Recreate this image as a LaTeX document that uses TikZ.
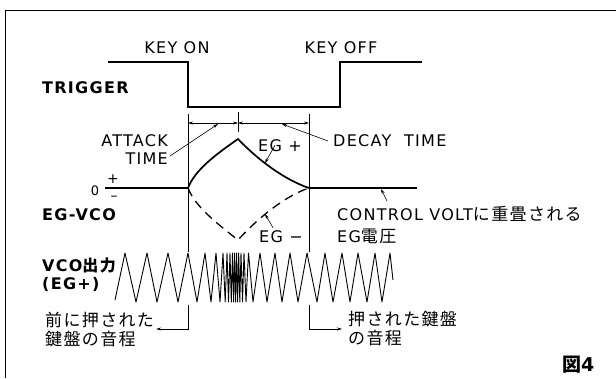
\documentclass[tikz,border=0pt]{standalone}
\usepackage{fontspec}
\setmainfont{DejaVu Sans}[LetterSpace=8]
\newfontfamily\jp{Noto Sans CJK JP}[LetterSpace=8]
\usetikzlibrary{arrows.meta}

\begin{document}
\begin{tikzpicture}[
		x=1pt, y=-1pt,
		frameline/.style={line width=0.9pt},
		sigline/.style={line width=1.6pt},
		egline/.style={line width=1.7pt},
		egdash/.style={line width=1.3pt, dash pattern=on 9pt off 6pt},
		guide/.style={line width=0.5pt},
		wave/.style={line width=0.9pt, line join=round},
		dimarrow/.style={
			{Stealth[length=5pt,width=3pt]}-{Stealth[length=5pt,width=3pt]},
			line width=0.5pt
		},
		leader/.style={
			-{Stealth[length=5pt,width=3pt]},
			line width=0.6pt
		},
		lbl/.style={inner sep=0pt, font=\fontsize{16}{18}\selectfont},
		boldlbl/.style={inner sep=0pt, align=left, font=\fontsize{16}{18}\selectfont\bfseries},
		jplbl/.style={inner sep=0pt, align=left, font=\fontsize{17}{19}\selectfont\jp}
	]
	
	\useasboundingbox (0,0) rectangle (616,378);
	\draw[frameline] (5,378) -- (5,10) -- (616,10);
	
	% trigger
	\node[lbl] (keyon) at (177,48) {KEY ON};
	\node[lbl] (keyoff) at (341,48) {KEY OFF};
	\node[boldlbl, anchor=west] (trigger) at (42,88) {TRIGGER};
	\draw[sigline] (108,62) -- (188,62) -- (188,107) -- (340,107) -- (340,62) -- (422,62);
	
	% envelope
	\coordinate (on) at (188,188);
	\coordinate (peak) at (238,139);
	\coordinate (trough) at (238,240);
	\coordinate (off) at (309,188);
	\coordinate (egpt) at (265,163);
	\coordinate (egmt) at (265,214);
	\coordinate (cvpt) at (381,189);
	\coordinate (dimA) at (218,124);
	\coordinate (dimD) at (282,124);
	
	\draw[guide] (188,114) -- (188,252);
	\draw[guide] (309,114) -- (309,252);
	\draw[guide] (238,112) -- (238,132);
	\draw[dimarrow] (188,123) -- (238,123);
	\draw[dimarrow] (238,123) -- (309,123);
	
	\node[lbl, align=right, anchor=east] (attack) at (168,150) {ATTACK\\TIME};
	\node[lbl, anchor=west] (decay) at (333,141) {DECAY\ \ TIME};
	\node[lbl] (egplus) at (280,146) {EG +};
	\node[lbl] (egminus) at (281,237) {EG −};
	\draw[leader] ([shift={(2,6)}]attack.east) -- (dimA);
	\draw[leader] ([xshift=-5pt]decay.west) -- (dimD);
	\draw[leader] ([shift={(-5,-7)}]egplus.south) -- (egpt);
	\draw[leader] ([shift={(-8,-3)}]egminus.north) -- (egmt);
	
	\node[lbl, font=\fontsize{13}{13}\selectfont] (zero) at (95,191) {0};
	\node[lbl, font=\fontsize{14}{14}\selectfont] (plus) at (113,179) {+};
	\node[lbl, font=\fontsize{14}{14}\selectfont] (minus) at (114,198) {–};
	\node[boldlbl, anchor=west] (egvco) at (42,215) {EG-VCO};
	
	\draw[egline] (105,188) -- (on);
	\draw[egline] (off) -- (417,188);
	\draw[egline] (on) .. controls (195,170) and (215,155) .. (peak)
		.. controls (258,160) and (285,180) .. (off);
	\draw[egdash] (on) .. controls (195,206) and (215,222) .. (trough)
		.. controls (258,218) and (285,196) .. (off);
	
	\node[lbl, align=left, anchor=west, font=\fontsize{16}{22}\selectfont] (cv) at (337,225)
		{CONTROL VOLT{\jp\fontsize{17}{22}\selectfont に重畳される}\\EG{\jp\fontsize{17}{22}\selectfont 電圧}};
	\draw[leader] ([shift={(50,-5)}]cv.north west) -- (cvpt);
	
	% VCO output
	\node[boldlbl, anchor=west] (vco) at (42,275) {VCO{\jp\fontsize{16}{18}\selectfont 出力}\\(EG+)};
	\draw[wave] (115,300) \foreach \x [count=\i] in {125,136,147,157,168,178,188,197,205,211,
		216,220,223,225.2,227,228.5,230,231.3,232.5,233.6,234.6,235.6,236.6,237.6,238.7,
		239.8,241,242.5,244,246,248.5,253,260,267,275,282,290,298,307,317,325,333,342,350,
		358,367,375,382,390} {-- (\x,{ifthenelse(isodd(\i),253,302)})} -- (393,280);
	
	\coordinate (lowL) at (188,305);
	\coordinate (lowR) at (309,305);
	\node[jplbl, anchor=west] (prev) at (45,329) {前に押された\\鍵盤の音程};
	\node[jplbl, anchor=west] (next) at (348,329) {押された鍵盤\\の音程};
	\draw[leader] (lowL) |- ([xshift=2pt]prev.east);
	\draw[leader] (lowR) |- ([xshift=-6pt]next.west);
	
	\node[boldlbl, anchor=west, font=\fontsize{19}{20}\selectfont\bfseries] (fig) at (562,365) {{\jp 図}4};
	
\end{tikzpicture}
\end{document}
